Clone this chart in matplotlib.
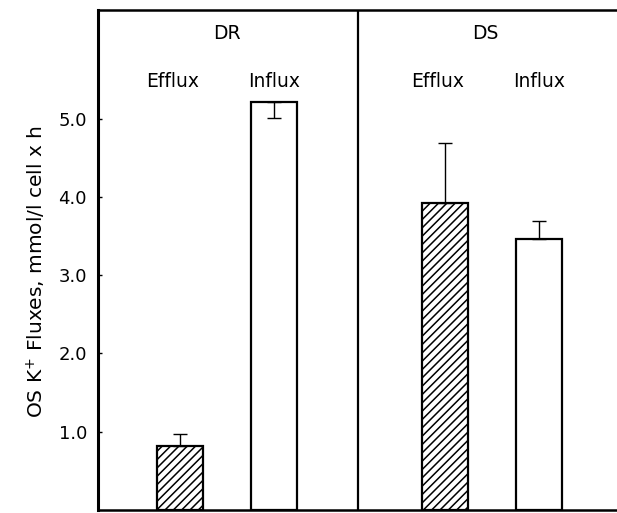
import numpy as np
import matplotlib.pyplot as plt

# data
groups = ["DR", "DS"]
kinds = ["Efflux", "Influx", "Efflux", "Influx"]
positions = [0, 1, 2.82, 3.82]
values = [0.82, 5.21, 3.92, 3.46]
err_low = [0, 0.20, 0, 0]
err_high = [0.15, 0, 0.77, 0.23]
hatches = ["////", "", "////", ""]
yticks = [1.0, 2.0, 3.0, 4.0, 5.0]

plt.rcParams['font.family'] = ['DejaVu Sans']
plt.rcParams['hatch.linewidth'] = 1.1

fig = plt.figure(figsize=(6.17, 5.13), dpi=100)
ax = fig.add_axes([98/617, 3/513, 1 - 98/617, 499.5/513])

for x, v, h in zip(positions, values, hatches):
    ax.bar(x, v, width=0.49, color="white", edgecolor="black",
           linewidth=1.6, hatch=h, zorder=2)
ax.errorbar(positions, values, yerr=[err_low, err_high], fmt="none",
            ecolor="black", elinewidth=1.0, capsize=4.7, capthick=1.0, zorder=3)

ax.axvline(1.89, color="black", linewidth=1.6)

ax.set_xlim(-0.872, 4.65)
ax.set_ylim(0, 6.38)
ax.set_xticks([])
ax.set_yticks(yticks)
ax.set_yticklabels(["%.1f" % t for t in yticks])
ax.tick_params(axis="y", direction="in", length=3, width=1, pad=8, labelsize=13)

ax.spines["left"].set_linewidth(2.2)
ax.spines["top"].set_linewidth(1.8)
ax.spines["bottom"].set_linewidth(1.8)
ax.spines["right"].set_visible(False)

fs = 13.5
ax.text(0.5, 6.09, groups[0], ha="center", va="center", fontsize=fs)
ax.text(3.25, 6.09, groups[1], ha="center", va="center", fontsize=fs)
for x, k in zip(positions, kinds):
    ax.text(x - 0.08 if k == "Efflux" else x, 5.47, k, ha="center", va="center", fontsize=fs)

fig.text(36/617, 1 - 272/513, "OS K$^{+}$ Fluxes, mmol/l cell x h", rotation=90,
         ha="center", va="center", fontsize=14.5)

fig.savefig("out.png", dpi=100)
